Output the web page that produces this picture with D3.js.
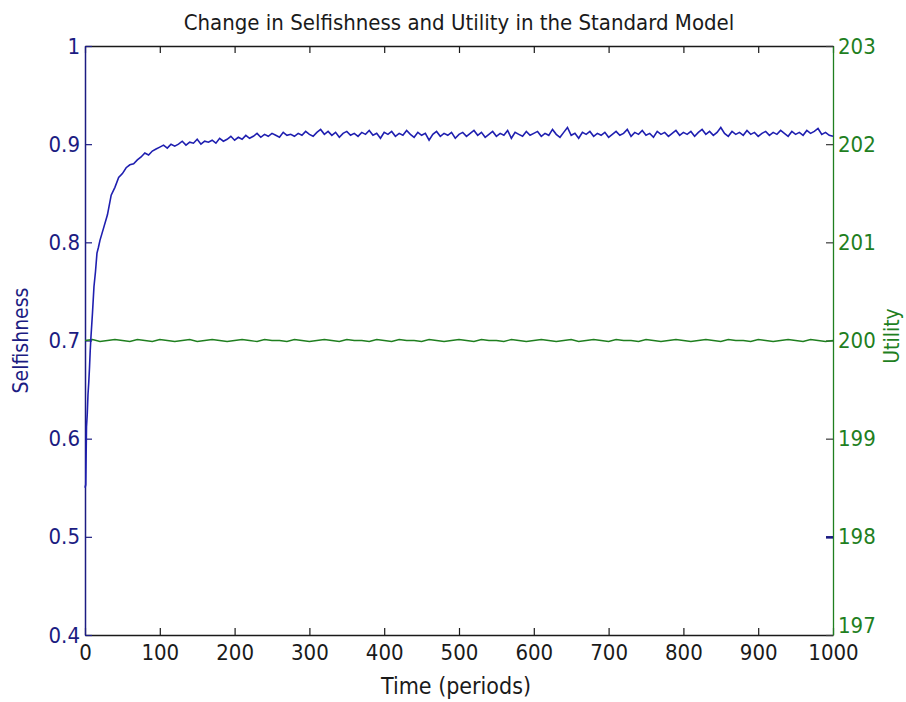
<!DOCTYPE html>
<html>
<head>
<meta charset="utf-8">
<script src="https://cdn.jsdelivr.net/npm/d3@7"></script>
<style>
  html, body { margin: 0; padding: 0; background: #ffffff; }
  svg text { font-family: "Liberation Sans Narrow", "DejaVu Sans Condensed", "Liberation Sans", Arial, sans-serif; }
</style>
</head>
<body>
<svg id="chart" width="906" height="702"></svg>
<script>
// ---- data ----
const chartTitle = "Change in Selfishness and Utility in the Standard Model";
const xLabel = "Time (periods)";
const yLeftLabel = "Selfishness";
const yRightLabel = "Utility";

const xTicks = [0, 100, 200, 300, 400, 500, 600, 700, 800, 900, 1000];
const yLeftTicks = [0.4, 0.5, 0.6, 0.7, 0.8, 0.9, 1];
const yRightTicks = [197, 198, 199, 200, 201, 202, 203];

// sample times for the selfishness series
const selfPeriods = [0, 1, 2, 3, 4, 5, 6, 7, 8, 9, 10, 12, 14, 16, 18].concat(d3.range(20, 1001, 5));
const selfishness = [
  0.550, 0.553, 0.612, 0.625, 0.645, 0.657, 0.672, 0.690, 0.704, 0.716, 0.728, 0.755, 0.770, 0.789, 0.795,
  0.802, 0.815, 0.828, 0.848, 0.856, 0.866, 0.870, 0.876, 0.879, 0.880, 0.884, 0.887, 0.891, 0.889, 0.893, 0.895, 0.897,
  0.899, 0.896, 0.900, 0.898, 0.900, 0.903, 0.899, 0.902, 0.901, 0.905, 0.900, 0.903, 0.902, 0.904, 0.901, 0.906, 0.903, 0.905, 0.908, 0.904,
  0.907, 0.905, 0.909, 0.906, 0.908, 0.911, 0.907, 0.910, 0.908, 0.911, 0.909, 0.907, 0.912, 0.909, 0.910, 0.908, 0.911, 0.909, 0.913, 0.910,
  0.908, 0.912, 0.915, 0.910, 0.913, 0.909, 0.912, 0.907, 0.911, 0.913, 0.909, 0.911, 0.908, 0.912, 0.910, 0.914, 0.909, 0.911, 0.906, 0.912,
  0.910, 0.913, 0.908, 0.911, 0.909, 0.914, 0.910, 0.907, 0.912, 0.909, 0.911, 0.904, 0.910, 0.913, 0.908, 0.911, 0.909, 0.912, 0.906, 0.910,
  0.912, 0.908, 0.911, 0.914, 0.909, 0.912, 0.907, 0.910, 0.913, 0.908, 0.911, 0.909, 0.914, 0.906, 0.912, 0.910, 0.908, 0.913, 0.909, 0.911,
  0.913, 0.908, 0.911, 0.909, 0.915, 0.910, 0.907, 0.912, 0.917, 0.909, 0.911, 0.906, 0.912, 0.910, 0.913, 0.908, 0.911, 0.909, 0.912, 0.907,
  0.910, 0.913, 0.909, 0.911, 0.915, 0.908, 0.912, 0.910, 0.914, 0.909, 0.911, 0.907, 0.913, 0.910, 0.912, 0.908, 0.911, 0.914, 0.909, 0.912,
  0.910, 0.913, 0.908, 0.912, 0.915, 0.910, 0.913, 0.909, 0.912, 0.917, 0.911, 0.908, 0.913, 0.910, 0.912, 0.909, 0.914, 0.910, 0.912, 0.908,
  0.911, 0.913, 0.909, 0.912, 0.910, 0.914, 0.911, 0.908, 0.913, 0.910, 0.912, 0.909, 0.914, 0.911, 0.913, 0.916, 0.910, 0.912, 0.909, 0.908
];

// sample times for the utility series
const utilPeriods = d3.range(0, 1001, 10);
const utility = [
  200.00, 200.01, 199.99, 200.00, 200.01, 200.00, 199.99, 200.01, 200.00, 199.99,
  200.01, 200.00, 199.99, 200.00, 200.01, 199.99, 200.00, 200.01, 200.00, 199.99,
  200.00, 200.01, 200.00, 199.99, 200.01, 200.00, 200.00, 199.99, 200.01, 200.00,
  199.99, 200.00, 200.01, 200.00, 199.99, 200.01, 200.00, 200.00, 199.99, 200.01,
  200.00, 199.99, 200.01, 200.00, 200.00, 199.99, 200.01, 200.00, 199.99, 200.00,
  200.01, 200.00, 199.99, 200.01, 200.00, 200.00, 199.99, 200.01, 200.00, 199.99,
  200.00, 200.01, 200.00, 199.99, 200.00, 200.01, 199.99, 200.00, 200.01, 200.00,
  199.99, 200.01, 200.00, 200.00, 199.99, 200.01, 200.00, 199.99, 200.00, 200.01,
  200.00, 199.99, 200.00, 200.01, 200.00, 199.99, 200.01, 200.00, 200.00, 199.99,
  200.01, 200.00, 199.99, 200.00, 200.01, 200.00, 199.99, 200.01, 200.00, 199.99,
  200.00
];

// ---- layout ----
const svg = d3.select("#chart");
const L = 85, R = 833, T = 46, B = 635;
const blueAxis = "#1c1c82";
const blueLine = "#1f1fb0";
const green = "#1f7f1f";
const black = "#1a1a1a";

const x = d3.scaleLinear().domain([0, 1000]).range([L, R]);
const yL = d3.scaleLinear().domain([0.4, 1]).range([B, T]);
const yR = d3.scaleLinear().domain([197, 203]).range([B, T]);

const tickLen = 7;
const tickFont = 22;

// bottom axis (ticks inward)
const gx = svg.append("g").attr("transform", `translate(0,${B})`)
  .call(d3.axisBottom(x).tickValues(xTicks).tickSizeInner(-tickLen).tickSizeOuter(0).tickPadding(9).tickFormat(d3.format("d")));
gx.select(".domain").attr("stroke", black).attr("stroke-width", 1.3);
gx.selectAll(".tick line").attr("stroke", black).attr("stroke-width", 1.2);
gx.selectAll(".tick text").attr("fill", black).attr("font-size", tickFont);

// top axis (mirrored ticks, no labels)
const gxt = svg.append("g").attr("transform", `translate(0,${T})`)
  .call(d3.axisTop(x).tickValues(xTicks).tickSizeInner(-tickLen).tickSizeOuter(0).tickFormat(""));
gxt.select(".domain").attr("stroke", black).attr("stroke-width", 1.3);
gxt.selectAll(".tick line").attr("stroke", black).attr("stroke-width", 1.2);

// right axis (green)
const gyr = svg.append("g").attr("transform", `translate(${R},0)`)
  .call(d3.axisRight(yR).tickValues(yRightTicks).tickSizeInner(-tickLen).tickSizeOuter(0).tickPadding(5).tickFormat(d3.format("d")));
gyr.select(".domain").attr("stroke", green).attr("stroke-width", 1.3);
gyr.selectAll(".tick line").attr("stroke", "#3a3a3a").attr("stroke-width", 1.2);
gyr.selectAll(".tick text").attr("fill", green).attr("font-size", tickFont);
gyr.selectAll(".tick").filter(d => d === 198).select("line").attr("stroke", blueAxis).attr("stroke-width", 2.6);
gyr.selectAll(".tick").filter(d => d === 197).select("text").attr("dy", "-0.1em");

// left axis (blue)
const gyl = svg.append("g").attr("transform", `translate(${L},0)`)
  .call(d3.axisLeft(yL).tickValues(yLeftTicks).tickSizeInner(-tickLen).tickSizeOuter(0).tickPadding(5).tickFormat(d => d === 1 ? "1" : d3.format(".1f")(d)));
gyl.select(".domain").attr("stroke", blueAxis).attr("stroke-width", 1.5);
gyl.selectAll(".tick line").attr("stroke", blueAxis).attr("stroke-width", 1.2);
gyl.selectAll(".tick text").attr("fill", blueAxis).attr("font-size", tickFont);

// utility line
svg.append("path")
  .datum(utilPeriods.map((t, i) => [t, utility[i]]))
  .attr("fill", "none").attr("stroke", green).attr("stroke-width", 1.3)
  .attr("d", d3.line().x(d => x(d[0])).y(d => yR(d[1])));

// selfishness line
svg.append("path")
  .datum(selfPeriods.map((t, i) => [t, selfishness[i]]))
  .attr("fill", "none").attr("stroke", blueLine).attr("stroke-width", 1.6)
  .attr("d", d3.line().x(d => x(d[0])).y(d => yL(d[1])));

// title and labels
svg.append("text").attr("x", (L + R) / 2).attr("y", 30).attr("text-anchor", "middle")
  .attr("font-size", 22).attr("fill", black).text(chartTitle);
svg.append("text").attr("x", 456).attr("y", 694).attr("text-anchor", "middle")
  .attr("font-size", 23).attr("fill", black).text(xLabel);
svg.append("text").attr("transform", `translate(28,${(T + B) / 2}) rotate(-90)`).attr("text-anchor", "middle")
  .attr("font-size", 21).attr("fill", blueAxis).text(yLeftLabel);
svg.append("text").attr("transform", `translate(899,336) rotate(-90)`).attr("text-anchor", "middle")
  .attr("font-size", 21).attr("fill", green).text(yRightLabel);
</script>
</body>
</html>
